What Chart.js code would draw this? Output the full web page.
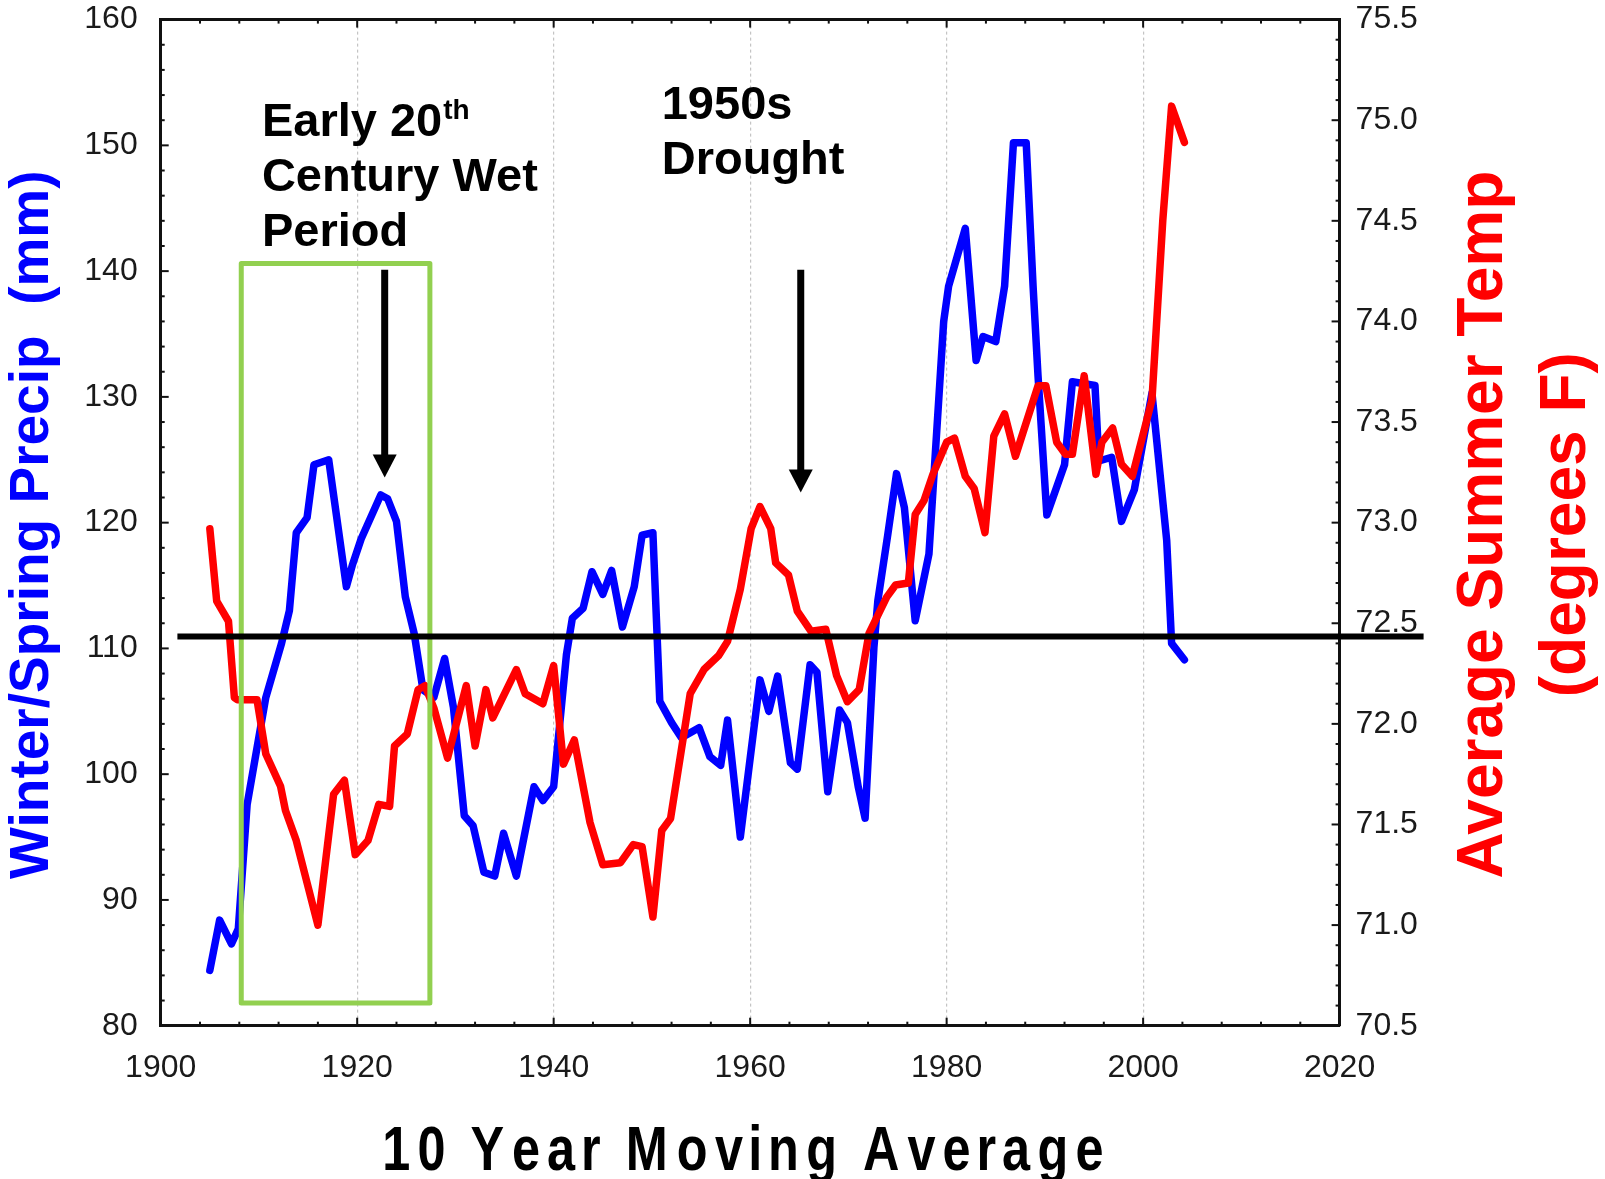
<!DOCTYPE html>
<html>
<head>
<meta charset="utf-8">
<title>Winter/Spring Precipitation and Average Summer Temperature</title>
<script src="https://cdn.jsdelivr.net/npm/chart.js@4.4.1/dist/chart.umd.min.js"></script>
<style>
  html, body { margin: 0; padding: 0; background: #ffffff; overflow: hidden; }
  #wrap { width: 1605px; height: 1179px; position: relative; }
  canvas { display: block; }
</style>
</head>
<body>
<div id="wrap"><canvas id="chart" width="1605" height="1179"></canvas></div>
<script>
// Winter/spring precipitation, 10-year moving average (mm)
const precipYears = [1905.0, 1906.0, 1907.2, 1907.9, 1908.8, 1910.7, 1912.3, 1913.1, 1913.8, 1914.9,
  1915.6, 1917.1, 1918.9, 1919.5, 1920.4, 1922.4, 1923.1, 1924.0, 1924.9, 1925.8,
  1926.7, 1927.8, 1928.9, 1929.8, 1930.9, 1931.8, 1932.9, 1934.0, 1934.9, 1936.2,
  1938.0, 1938.9, 1940.0, 1941.3, 1941.9, 1943.0, 1943.9, 1945.0, 1945.9, 1947.0,
  1948.2, 1949.0, 1950.1, 1950.8, 1952.0, 1953.0, 1954.8, 1955.9, 1957.0, 1957.7,
  1959.0, 1961.0, 1961.9, 1962.8, 1964.1, 1964.8, 1966.1, 1966.8, 1967.9, 1969.1,
  1969.9, 1971.0, 1971.7, 1972.6, 1973.0, 1974.0, 1974.9, 1975.7, 1976.8, 1978.2,
  1979.7, 1980.2, 1981.9, 1983.0, 1983.7, 1985.0, 1985.9, 1986.8, 1988.1, 1988.8,
  1989.3, 1990.2, 1992.0, 1992.8, 1995.1, 1995.5, 1996.8, 1997.8, 1999.1, 2000.9,
  2002.4, 2002.9, 2004.2];
const precipMm = [84.4, 88.4, 86.5, 87.7, 97.6, 106.1, 110.4, 113.0, 119.2, 120.4,
  124.6, 125.0, 114.9, 116.6, 118.7, 122.2, 121.9, 120.1, 114.1, 111.2,
  106.7, 106.1, 109.2, 105.3, 96.7, 95.9, 92.2, 91.9, 95.3, 91.9,
  99.0, 97.9, 99.0, 109.5, 112.4, 113.2, 116.1, 114.3, 116.2, 111.7,
  114.9, 119.0, 119.2, 105.8, 104.1, 102.9, 103.7, 101.4, 100.7, 104.3,
  95.0, 107.5, 105.0, 107.8, 100.9, 100.4, 108.7, 108.1, 98.6, 105.1,
  104.1, 99.0, 96.5, 110.1, 113.8, 119.0, 123.9, 121.2, 112.2, 117.5,
  136.0, 138.8, 143.4, 132.9, 134.8, 134.4, 138.8, 150.2, 150.2, 138.8,
  131.7, 120.6, 124.6, 131.2, 130.9, 124.9, 125.2, 120.1, 122.6, 130.3,
  118.6, 110.4, 109.1];

// Average summer temperature, 10-year moving average (degrees F)
const tempYears = [1905.0, 1905.7, 1906.9, 1907.5, 1907.8, 1909.8, 1910.7, 1912.2, 1912.7, 1913.8,
  1916.0, 1917.6, 1918.7, 1919.8, 1921.1, 1922.2, 1923.3, 1923.8, 1925.1, 1926.2,
  1926.9, 1927.8, 1929.2, 1931.1, 1932.0, 1933.1, 1933.8, 1936.2, 1937.1, 1938.9,
  1940.0, 1941.0, 1942.1, 1943.7, 1945.0, 1946.8, 1948.1, 1949.0, 1950.1, 1951.0,
  1951.9, 1953.9, 1955.3, 1956.8, 1957.7, 1959.0, 1960.1, 1961.0, 1962.1, 1962.6,
  1963.9, 1964.8, 1966.2, 1967.7, 1968.8, 1969.9, 1971.1, 1972.1, 1973.9, 1974.8,
  1976.1, 1976.8, 1977.7, 1978.6, 1980.0, 1980.8, 1981.9, 1982.8, 1983.9, 1984.8,
  1985.9, 1987.0, 1989.3, 1990.1, 1991.2, 1992.1, 1992.8, 1994.0, 1995.2, 1995.8,
  1996.9, 1997.8, 1998.9, 2000.9, 2002.0, 2002.9, 2004.2];
const tempF = [72.97, 72.61, 72.51, 72.13, 72.12, 72.12, 71.85, 71.69, 71.57, 71.42,
  71.00, 71.65, 71.72, 71.35, 71.42, 71.60, 71.59, 71.89, 71.95, 72.17,
  72.19, 72.08, 71.83, 72.19, 71.89, 72.17, 72.03, 72.27, 72.15, 72.10,
  72.29, 71.80, 71.92, 71.51, 71.30, 71.31, 71.40, 71.39, 71.04, 71.47,
  71.53, 72.15, 72.27, 72.34, 72.41, 72.67, 72.97, 73.08, 72.97, 72.80,
  72.74, 72.56, 72.46, 72.47, 72.24, 72.11, 72.17, 72.45, 72.63, 72.69,
  72.70, 73.04, 73.11, 73.24, 73.40, 73.42, 73.23, 73.17, 72.95, 73.43,
  73.54, 73.33, 73.68, 73.68, 73.40, 73.34, 73.34, 73.73, 73.24, 73.40,
  73.47, 73.29, 73.23, 73.61, 74.50, 75.07, 74.89];

// Axis ticks
const yearTicks = [1900, 1920, 1940, 1960, 1980, 2000, 2020];
const precipTicks = [80, 90, 100, 110, 120, 130, 140, 150, 160];
const tempTicks = [70.5, 71.0, 71.5, 72.0, 72.5, 73.0, 73.5, 74.0, 74.5, 75.0, 75.5];

// Long-term mean precipitation level
const meanPrecip = 110.95;

const FONT = '"Liberation Sans", Arial, Helvetica, sans-serif';
Chart.defaults.font.family = FONT;

// Annotation layout, in data units of the year / precipitation scales
const notes = {
  meanFrom: 1901.7, meanTo: 2028.55,
  box: { x0: 1908.2, x1: 1927.4, y0: 81.8, y1: 140.6 },
  arrows: [ { x: 1922.8, y0: 140.1, y1: 123.6 }, { x: 1965.15, y0: 140.1, y1: 122.4 } ],
  wet: { x: 1910.3, y: 150.76 },
  drought: { x: 1951.0, y: 152.08 }
};

function tickMarks(ctx, scale, horizontal, from, to, step, majorEvery, edge, dir) {
  const n = Math.round((to - from) / step);
  for (let k = 0; k <= n; k++) {
    const v = from + k * step;
    const len = (k % majorEvery === 0) ? 8 : 4;
    const p = scale.getPixelForValue(v);
    ctx.beginPath();
    if (horizontal) { ctx.moveTo(p, edge); ctx.lineTo(p, edge + dir * len); }
    else { ctx.moveTo(edge, p); ctx.lineTo(edge + dir * len, p); }
    ctx.stroke();
  }
}

function squeezedText(ctx, text, cx, baseline, sx) {
  const widths = [...text].map(c => ctx.measureText(c).width);
  const total = widths.reduce((a, b) => a + b, 0);
  let x = cx - total / 2;
  [...text].forEach((c, i) => {
    ctx.save();
    ctx.translate(x + widths[i] / 2, baseline);
    ctx.scale(sx, 1);
    ctx.textAlign = 'center';
    ctx.fillText(c, 0, 0);
    ctx.restore();
    x += widths[i];
  });
}

// keep the plot frame fixed: the side axes do not push the plot down for their labels
function fixSideAxis(width) {
  return s => { s.width = width; s.paddingTop = 0; s.paddingBottom = 0; };
}

const decorations = {
  id: 'decorations',
  afterDatasetsDraw(chart) {
    const { ctx, chartArea: a, scales } = chart;
    const xs = scales.x, ys = scales.y, ts = scales.y2;
    ctx.save();

    // top frame and inward tick marks on all four sides
    ctx.strokeStyle = '#111';
    ctx.lineWidth = 3;
    ctx.beginPath(); ctx.moveTo(a.left - 1, a.top); ctx.lineTo(a.right + 1, a.top); ctx.stroke();
    ctx.lineWidth = 2;
    tickMarks(ctx, xs, true, 1900, 2020, 4, 5, a.bottom, -1);
    tickMarks(ctx, xs, true, 1900, 2020, 4, 5, a.top, 1);
    tickMarks(ctx, ys, false, 80, 160, 2, 5, a.left, 1);
    tickMarks(ctx, ts, false, 70.5, 75.5, 0.1, 5, a.right, -1);

    // green box around the wet period
    const b = notes.box;
    ctx.strokeStyle = '#92d050';
    ctx.lineWidth = 5;
    ctx.lineJoin = 'round';
    const bx0 = xs.getPixelForValue(b.x0), bx1 = xs.getPixelForValue(b.x1);
    const by0 = ys.getPixelForValue(b.y0), by1 = ys.getPixelForValue(b.y1);
    ctx.strokeRect(bx0, by1, bx1 - bx0, by0 - by1);

    // long-term mean line
    ctx.strokeStyle = '#000';
    ctx.lineWidth = 6;
    const my = ys.getPixelForValue(meanPrecip);
    ctx.beginPath();
    ctx.moveTo(xs.getPixelForValue(notes.meanFrom), my);
    ctx.lineTo(xs.getPixelForValue(notes.meanTo), my);
    ctx.stroke();

    // arrows
    ctx.fillStyle = '#000';
    notes.arrows.forEach(ar => {
      const px = xs.getPixelForValue(ar.x);
      const top = ys.getPixelForValue(ar.y0), tip = ys.getPixelForValue(ar.y1);
      const head = 23;
      ctx.lineWidth = 7;
      ctx.beginPath(); ctx.moveTo(px, top); ctx.lineTo(px, tip - head + 2); ctx.stroke();
      ctx.beginPath();
      ctx.moveTo(px - 12, tip - head); ctx.lineTo(px + 12, tip - head); ctx.lineTo(px, tip);
      ctx.closePath(); ctx.fill();
    });

    // annotation texts
    ctx.fillStyle = '#000';
    ctx.textAlign = 'left';
    ctx.textBaseline = 'alphabetic';
    ctx.font = 'bold 47px ' + FONT;
    const wx = xs.getPixelForValue(notes.wet.x), wy = ys.getPixelForValue(notes.wet.y);
    ctx.fillText('Early 20', wx, wy);
    const w20 = ctx.measureText('Early 20').width;
    ctx.fillText('Century Wet', wx, wy + 55);
    ctx.fillText('Period', wx, wy + 110);
    ctx.font = 'bold 28px ' + FONT;
    ctx.fillText('th', wx + w20 + 1, wy - 17);

    ctx.font = 'bold 47px ' + FONT;
    const dx = xs.getPixelForValue(notes.drought.x), dy = ys.getPixelForValue(notes.drought.y);
    ctx.fillText('1950s', dx, dy);
    ctx.fillText('Drought', dx, dy + 55);
    ctx.restore();
  },
  afterDraw(chart) {
    const { ctx, chartArea: a } = chart;
    const midY = (a.top + a.bottom) / 2 + 2;
    ctx.save();
    ctx.textAlign = 'center';
    ctx.textBaseline = 'middle';

    // left axis title
    ctx.fillStyle = '#0000ff';
    ctx.font = 'bold 55px ' + FONT;
    ctx.save(); ctx.translate(33, midY); ctx.rotate(-Math.PI / 2);
    ctx.fillText('Winter/Spring Precip  (mm)', 0, 0); ctx.restore();

    // right axis title
    ctx.fillStyle = '#ff0000';
    ctx.font = 'bold 64px ' + FONT;
    ctx.save(); ctx.translate(1484, midY); ctx.rotate(-Math.PI / 2);
    ctx.fillText('Average Summer Temp', 0, 0); ctx.restore();
    ctx.save(); ctx.translate(1567, midY); ctx.rotate(-Math.PI / 2);
    ctx.fillText('(degrees F)', 0, 0); ctx.restore();

    // x axis title
    ctx.fillStyle = '#000';
    ctx.textBaseline = 'alphabetic';
    ctx.font = 'bold 63px ' + FONT;
    squeezedText(ctx, '10 Year Moving Average', 743, 1170, 0.8);
    ctx.restore();
  }
};

new Chart(document.getElementById('chart'), {
  type: 'line',
  data: {
    datasets: [
      {
        label: 'Average Summer Temp',
        data: tempYears.map((yr, i) => ({ x: yr, y: tempF[i] })),
        yAxisID: 'y2',
        borderColor: '#ff0000',
        borderWidth: 7.5,
        order: 0
      },
      {
        label: 'Winter/Spring Precip',
        data: precipYears.map((yr, i) => ({ x: yr, y: precipMm[i] })),
        yAxisID: 'y',
        borderColor: '#0000ff',
        borderWidth: 7.5,
        order: 1
      }
    ]
  },
  options: {
    responsive: false,
    animation: false,
    devicePixelRatio: 1,
    layout: { padding: { top: 19.6, left: 0, right: 0, bottom: 0 } },
    elements: {
      point: { radius: 0, hoverRadius: 0 },
      line: { tension: 0, fill: false, borderJoinStyle: 'round', borderCapStyle: 'round' }
    },
    plugins: { legend: { display: false }, tooltip: { enabled: false } },
    scales: {
      x: {
        type: 'linear',
        min: 1900, max: 2020,
        afterBuildTicks: s => { s.ticks = yearTicks.map(v => ({ value: v })); },
        afterFit: s => { s.height = 153.3; },
        ticks: { padding: 23, maxRotation: 0, autoSkip: false, color: '#1a1a1a',
                 font: { size: 32 }, callback: v => String(v) },
        grid: { color: '#c4c4c4', lineWidth: 1.2, drawTicks: false },
        border: { display: true, color: '#111', width: 3, dash: [3, 3] }
      },
      y: {
        type: 'linear', position: 'left',
        min: 80, max: 160,
        afterBuildTicks: s => { s.ticks = precipTicks.map(v => ({ value: v })); },
        afterFit: fixSideAxis(160.7),
        ticks: { padding: 23, color: '#1a1a1a', font: { size: 32 }, callback: v => String(v) },
        grid: { display: false, drawTicks: false },
        border: { display: true, color: '#111', width: 3 }
      },
      y2: {
        type: 'linear', position: 'right',
        min: 70.5, max: 75.5,
        afterBuildTicks: s => { s.ticks = tempTicks.map(v => ({ value: v })); },
        afterFit: fixSideAxis(265.4),
        ticks: { padding: 16, color: '#1a1a1a', font: { size: 32 }, callback: v => Number(v).toFixed(1) },
        grid: { display: false, drawTicks: false },
        border: { display: true, color: '#111', width: 3 }
      }
    }
  },
  plugins: [decorations]
});
</script>
</body>
</html>
